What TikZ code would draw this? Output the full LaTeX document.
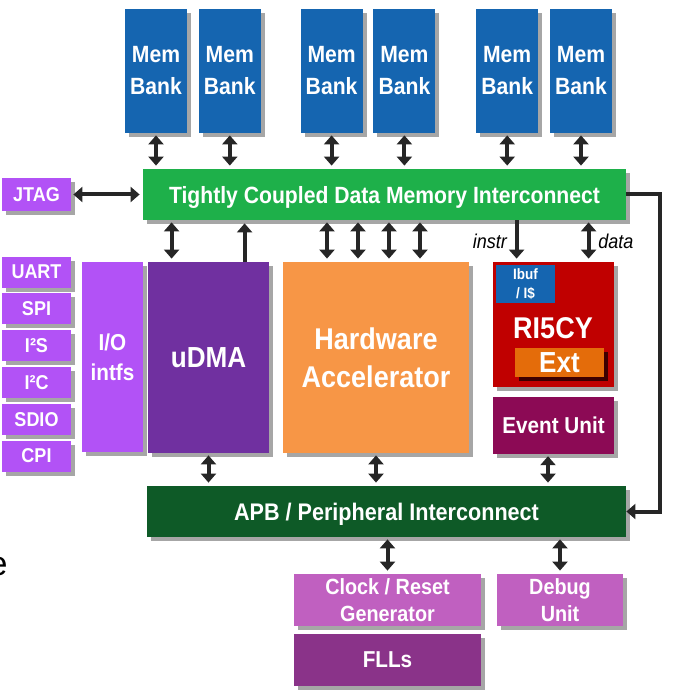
\documentclass[tikz,border=0pt]{standalone}
\usepackage{fontspec}
\setmainfont{Liberation Sans}
\newfontfamily\narrowsf{Liberation Sans}[FakeStretch=0.9]
\usetikzlibrary{positioning,arrows.meta,shadows}

\definecolor{bankblue}{HTML}{1565B0}
\definecolor{tcdmgreen}{HTML}{1EB04A}
\definecolor{lilac}{HTML}{B252F6}
\definecolor{udmapurple}{HTML}{7030A0}
\definecolor{hworange}{HTML}{F79646}
\definecolor{riscred}{HTML}{C00000}
\definecolor{extorange}{HTML}{E46C0A}
\definecolor{eventmaroon}{HTML}{8C0A55}
\definecolor{apbgreen}{HTML}{0E5A27}
\definecolor{clocklilac}{HTML}{C060C0}
\definecolor{fllpurple}{HTML}{8A3389}
\definecolor{arrowdark}{HTML}{262626}

\newcommand{\bfsz}[2]{\narrowsf\bfseries\fontsize{#1}{#2}\selectfont}

\tikzset{
  blk/.style={inner sep=0pt, align=center, text=white,
    drop shadow={shadow xshift=2pt, shadow yshift=-2pt, fill=black, opacity=0.35}},
  bank/.style={blk, fill=bankblue, minimum width=31pt, minimum height=62pt, font=\bfsz{11.75}{16}},
  periph/.style={blk, fill=lilac, minimum width=34.5pt, minimum height=15.5pt, font=\bfsz{10}{12}},
  dbl/.style={{Triangle[width=7.5pt,length=4.5pt]}-{Triangle[width=7.5pt,length=4.5pt]},
    line width=2pt, draw=arrowdark, shorten <=1pt, shorten >=1.5pt},
  sgl/.style={-{Triangle[width=7.5pt,length=4.5pt]},
    line width=2pt, draw=arrowdark, shorten >=1.5pt},
}

\begin{document}
\begin{tikzpicture}[x=0.5pt,y=-0.5pt]
  \useasboundingbox (0,0) rectangle (686,695);

  % memory banks
  \node[bank] (bank1) at (156,71) {Mem\\Bank};
  \node[bank] (bank2) [right=5.5pt of bank1] {Mem\\Bank};
  \node[bank] (bank3) [right=19.5pt of bank2] {Mem\\Bank};
  \node[bank] (bank4) [right=5pt of bank3] {Mem\\Bank};
  \node[bank] (bank5) [right=20pt of bank4] {Mem\\Bank};
  \node[bank] (bank6) [right=5.5pt of bank5] {Mem\\Bank};

  % interconnects
  \node[blk, fill=tcdmgreen, minimum width=241.5pt, minimum height=25.5pt, text depth=0pt,
    font=\bfsz{11.75}{14}] (tcdm) at (384.5,194.5) {Tightly Coupled Data Memory Interconnect};
  \node[blk, fill=apbgreen, minimum width=239.5pt, minimum height=25.5pt, text depth=0pt,
    font=\bfsz{12}{14}] (apb) at (386.5,511.5) {APB / Peripheral Interconnect};

  % peripherals
  \node[periph, minimum height=16.5pt] (jtag) at (36.5,194.5) {JTAG};
  \node[periph] (uart) at (36.5,272) {UART};
  \node[periph] (spi)  [below=2.5pt of uart] {SPI};
  \node[periph] (iis)  [below=2.5pt of spi]  {I²S};
  \node[periph] (iic)  [below=2.5pt of iis]  {I²C};
  \node[periph] (sdio) [below=2.5pt of iic]  {SDIO};
  \node[periph] (cpi)  [below=2.5pt of sdio] {CPI};

  % cluster blocks
  \node[blk, fill=lilac, minimum width=30.5pt, minimum height=95pt, font=\bfsz{11.5}{15}]
    (io) at (112.5,357) {I/O\\intfs};
  \node[blk, fill=udmapurple, minimum width=60.5pt, minimum height=95.5pt, font=\bfsz{14.5}{17}]
    (udma) at (208.5,357.5) {uDMA};
  \node[blk, fill=hworange, minimum width=93pt, minimum height=95.5pt, font=\bfsz{15}{19}]
    (hw) at (376,357.5) {Hardware\\Accelerator};
  \node[blk, fill=riscred, minimum width=60.5pt, minimum height=62.5pt] (ri5cy) at (553.5,324.5) {};
  \node[inner sep=0pt, fill=bankblue, text=white, align=center, minimum width=29.5pt, minimum height=19pt,
    font=\bfsz{7.5}{9.5}] (ibuf) at (525.5,284) {Ibuf\\/ I\$};
  \node[text=white, inner sep=0pt, font=\bfsz{15}{17}] (ri5cylbl) at (553,328) {RI5CY};
  \node[blk, fill=extorange, minimum width=44.5pt, minimum height=14.5pt, font=\bfsz{14.5}{16},
    drop shadow={shadow xshift=2pt, shadow yshift=-2pt, fill=black, opacity=0.5}]
    (ext) at (559.5,362.5) {Ext};
  \node[blk, fill=eventmaroon, minimum width=60.5pt, minimum height=28.5pt, font=\bfsz{11.5}{14}]
    (event) [below=4.5pt of ri5cy] {Event Unit};

  % SoC blocks
  \node[blk, fill=clocklilac, minimum width=93.5pt, minimum height=26pt, font=\bfsz{11}{13.5}]
    (clock) at (387.5,600) {Clock / Reset\\Generator};
  \node[blk, fill=fllpurple, minimum width=93.5pt, minimum height=26pt, font=\bfsz{11.5}{14}]
    (flls) [below=3.5pt of clock] {FLLs};
  \node[blk, fill=clocklilac, minimum width=63pt, minimum height=26pt, font=\bfsz{11}{13.5}]
    (debug) at (560,600) {Debug\\Unit};

  % cut-off text at the left edge
  \node[anchor=base east, inner sep=0pt, font=\fontsize{17}{20}\selectfont] (cut) at (8,575) {e};

  % connections
  \foreach \b in {bank1,bank2,bank3,bank4,bank5,bank6}
    \draw[dbl] (\b.south) -- (\b.south |- tcdm.north);
  \draw[dbl] (jtag.east) -- (tcdm.west);
  \draw[dbl] ([xshift=12pt]udma.north west |- tcdm.south) -- ([xshift=12pt]udma.north west);
  \draw[sgl] ([xshift=48.5pt]udma.north west) -- ([xshift=48.5pt]udma.north west |- tcdm.south);
  \foreach \dx in {-24.5,-9,6.5,22}
    \draw[dbl] ([xshift=\dx pt]hw.north |- tcdm.south) -- ([xshift=\dx pt]hw.north);
  \draw[sgl] ([xshift=12pt]ri5cy.north west |- tcdm.south) -- ([xshift=12pt]ri5cy.north west)
    node[midway, left=0.5pt, font=\narrowsf\itshape\fontsize{10}{12}\selectfont] {instr};
  \draw[dbl] ([xshift=48pt]ri5cy.north west |- tcdm.south) -- ([xshift=48pt]ri5cy.north west)
    node[midway, right=0.5pt, font=\narrowsf\itshape\fontsize{10}{12}\selectfont] {data};
  \draw[sgl, shorten >=0pt] (tcdm.east) -- ++(17pt,0) |- (apb.east);

  \draw[dbl] (udma.south) -- (udma.south |- apb.north);
  \draw[dbl] (hw.south) -- (hw.south |- apb.north);
  \draw[dbl] ([xshift=-2.75pt]event.south) -- ([xshift=-2.75pt]event.south |- apb.north);
  \draw[dbl] (apb.south -| clock.north) -- (clock.north);
  \draw[dbl] (apb.south -| debug.north) -- (debug.north);
\end{tikzpicture}
\end{document}
